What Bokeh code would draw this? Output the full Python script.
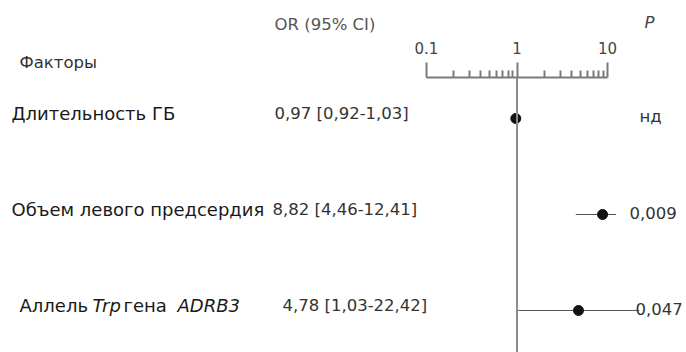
from bokeh.plotting import figure
from bokeh.layouts import column
from bokeh.models import Range1d, Label, FixedTicker, Span
from bokeh.embed import file_html
from bokeh.resources import INLINE

# ---------------- data ----------------
factors = ["Длительность ГБ", "Объем левого предсердия", "Аллель |Trp| гена |ADRB3|"]
or_values = [0.97, 8.82, 4.78]
ci_low = [0.92, 4.46, 1.03]
ci_high = [1.03, 12.41, 22.42]
or_labels = ["0,97 [0,92-1,03]", "8,82 [4,46-12,41]", "4,78 [1,03-22,42]"]
p_labels = ["нд", "0,009", "0,047"]
rows = [0, 1, 2]
major_ticks = [0.1, 1, 10]
minor_ticks = [0.2, 0.3, 0.4, 0.5, 0.6, 0.7, 0.8, 0.9, 2, 3, 4, 5, 6, 7, 8, 9]
tick_labels = ["0.1", "1", "10"]
header_factors = "Факторы"
header_or = "OR (95% CI)"
header_p = "P"

# ---------------- layout ----------------
W, H = 686, 352
TOP = 77              # frame top (axis line)
DECADE = 90.5         # px per decade
X01 = 426             # px of 0.1
ROW0 = 118            # px of first row
ROWSTEP = 96
FONT = "DejaVu Sans"

frame_h = H - TOP
x_start = 0.1 / 10 ** (X01 / DECADE)
x_end = 10 * 10 ** ((W - (X01 + 2 * DECADE)) / DECADE)
y_top = -(ROW0 - TOP) / ROWSTEP
y_bot = y_top + frame_h / ROWSTEP

p = figure(width=W, height=H, x_axis_type="log", x_axis_location="above",
           y_axis_location=None, output_backend="svg", toolbar_location=None,
           x_range=Range1d(x_start, x_end), y_range=Range1d(y_bot, y_top),
           min_border_top=TOP, min_border_left=0, min_border_right=0, min_border_bottom=0)
p.outline_line_color = None
p.grid.visible = False
p.background_fill_alpha = 0
p.border_fill_alpha = 0

ax = p.xaxis[0]
ax.ticker = FixedTicker(ticks=major_ticks, minor_ticks=minor_ticks)
ax.bounds = (0.1, 10)
ax.major_label_overrides = {t: l for t, l in zip(major_ticks, tick_labels)}
ax.axis_line_color = "#7a7a7a"
ax.axis_line_width = 2
ax.major_tick_line_color = "#7a7a7a"
ax.major_tick_line_width = 2
ax.minor_tick_line_color = "#7a7a7a"
ax.minor_tick_line_width = 2
ax.major_tick_in = 0
ax.major_tick_out = 15
ax.minor_tick_in = 0
ax.minor_tick_out = 7
ax.major_label_standoff = 9
ax.major_label_text_font = FONT
ax.major_label_text_font_size = "15px"
ax.major_label_text_color = "#444444"

p.add_layout(Span(location=1, dimension="height", line_color="#8c8c8c", line_width=2))

p.segment(x0=ci_low, x1=ci_high, y0=rows, y1=rows, line_color="#555555", line_width=1.2)
p.scatter(x=or_values, y=rows, size=10, fill_color="#111111", line_color="#111111")

# row texts
piece_x = [[11], [11], [19, 92, 123, 177]]
or_x = [274, 272, 282]
p_x = [639, 629, 635]
for i, r in enumerate(rows):
    parts = factors[i].split("|")
    for j, part in enumerate(parts):
        if not part.strip():
            continue
        p.add_layout(Label(x=piece_x[i][j], y=r, x_units="screen", y_units="data",
                           y_offset=5, text=part.strip(), text_font=FONT,
                           text_font_size="18px", text_color="#1a1a1a",
                           text_font_style="italic" if j % 2 == 1 else "normal",
                           text_baseline="middle"))
    p.add_layout(Label(x=or_x[i], y=r, x_units="screen", y_units="data", y_offset=5,
                       text=or_labels[i], text_font=FONT, text_font_size="16.5px",
                       text_color="#333333", text_baseline="middle"))
    p.add_layout(Label(x=p_x[i], y=r, x_units="screen", y_units="data", y_offset=2,
                       text=p_labels[i], text_font=FONT, text_font_size="16.5px",
                       text_color="#333333", text_baseline="middle"))

# header overlay (drawn over the top border of the main figure)
h = figure(width=W, height=TOP, output_backend="svg", toolbar_location=None,
           x_range=Range1d(0, W), y_range=Range1d(TOP, 0),
           x_axis_location=None, y_axis_location=None,
           min_border_top=0, min_border_left=0, min_border_right=0, min_border_bottom=0,
           margin=(-H, 0, 0, 0))
h.outline_line_color = None
h.grid.visible = False
h.background_fill_alpha = 0
h.border_fill_alpha = 0
h.add_layout(Label(x=19, y=62, text=header_factors, text_font=FONT, text_font_size="16.5px",
                   text_color="#333333", text_baseline="middle"))
h.add_layout(Label(x=274, y=24, text=header_or, text_font=FONT, text_font_size="16.5px",
                   text_color="#555555", text_baseline="middle"))
h.add_layout(Label(x=644, y=22, text=header_p, text_font=FONT, text_font_size="16.5px",
                   text_color="#444444", text_font_style="italic", text_baseline="middle"))

layout = column(p, h, spacing=0)
open("out.html", "w").write(file_html(layout, INLINE))
